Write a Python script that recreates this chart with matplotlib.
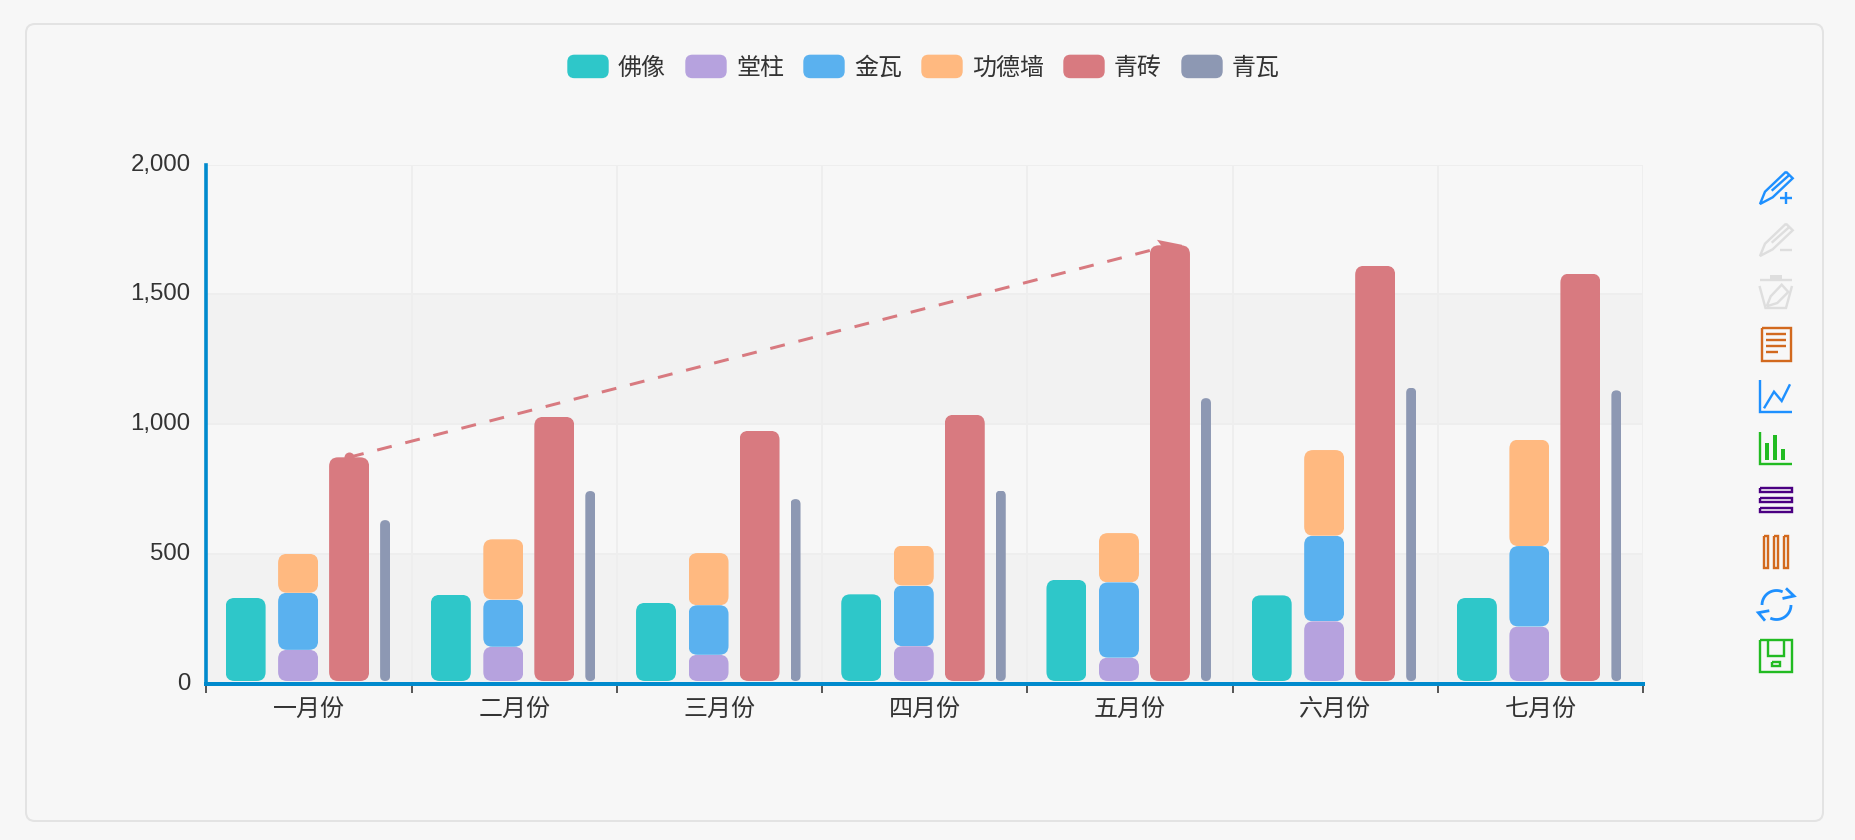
import numpy as np
import matplotlib
matplotlib.use("Agg")
import matplotlib.pyplot as plt
from matplotlib.lines import Line2D
from matplotlib.patches import FancyBboxPatch, Patch, Polygon, Rectangle
from matplotlib.legend_handler import HandlerPatch
from matplotlib.transforms import Affine2D, ScaledTranslation
from matplotlib.ticker import FuncFormatter

plt.rcParams['font.family'] = ['Liberation Sans', 'Noto Sans CJK SC']

# ---- data ----
months = ['一月份', '二月份', '三月份', '四月份', '五月份', '六月份', '七月份']
foxiang = [320, 332, 301, 334, 390, 330, 320]
tangzhu = [120, 132, 101, 134, 90, 230, 210]
jinwa = [220, 182, 191, 234, 290, 330, 310]
gongde = [150, 232, 201, 154, 190, 330, 410]
qingzhuan = [862, 1018, 964, 1026, 1679, 1600, 1570]
qingwa = [620, 732, 701, 734, 1090, 1130, 1120]
yticks = [0, 500, 1000, 1500, 2000]

# ---- style ----
W, H = 1856, 840
BG = '#F7F7F7'
C_TEAL, C_PURPLE, C_BLUE, C_ORANGE, C_RED, C_SLATE = '#2EC7C9', '#B6A2DE', '#5AB1EF', '#FFB980', '#D87A80', '#8D98B3'
AXIS = '#008ACD'
TEXT = '#333333'
FS = 24 * 0.72
AX_L, AX_R, AX_T, AX_B = 206.5, 1643.0, 164.5, 683.5
PX = 0.72  # points per pixel

fig = plt.figure(figsize=(W / 100, H / 100), dpi=100, facecolor=BG)
px = Affine2D().scale(1, -1).translate(0, H)

# card
fig.add_artist(FancyBboxPatch((26, 24), 1797, 797, boxstyle='round,pad=0,rounding_size=9',
                              fc=BG, ec='#E3E3E3', lw=2 * PX, transform=px, zorder=0))

ax = fig.add_axes([AX_L / W, 1 - AX_B / H, (AX_R - AX_L) / W, (AX_B - AX_T) / H])
ax.set_facecolor(BG)
ax.set_xlim(-0.5, 6.5)
ax.set_ylim(0, 2000)
sx = (AX_R - AX_L) / 7
sy = (AX_B - AX_T) / 2000

# alternating bands
for lo, hi in zip(yticks[:-1:2], yticks[1::2]):
    ax.axhspan(lo, hi, fc='#F2F2F2', ec='none', zorder=0)
# grid
ax.set_axisbelow(True)
ax.grid(True, which='major', color='#EEEEEE', lw=2 * PX, zorder=1)

x = np.arange(len(months))
LIFT = 2.5 / sy  # bars sit just above the axis line


def rounded(container, r_px):
    for bar in container:
        p = FancyBboxPatch((bar.get_x(), bar.get_y()), bar.get_width(), bar.get_height(),
                           boxstyle=f'round,pad=0,rounding_size={r_px / sx}',
                           mutation_aspect=sx / sy, transform=ax.transData)
        bar.set_clip_path(p)


def arr(v):
    return np.asarray(v, dtype=float)


w = 40 / sx
off_teal, off_stack, off_red, off_slate = -63.5 / sx, -11 / sx, 40 / sx, 76 / sx

# mark line behind the bars
x0, x1 = x[0] + off_red, x[4] + off_red
y0, y1 = qingzhuan[0] + LIFT, qingzhuan[4] + LIFT
lw_m = 3 * PX
ax.plot([x0, x1], [y0, y1], color=C_RED, lw=lw_m, zorder=2,
        linestyle=(0, (15 * PX / lw_m, 14 * PX / lw_m)), dash_capstyle='butt')
ax.plot([x0], [y0], 'o', color=C_RED, ms=10 * PX, mew=0, zorder=2)
ex, ey = ax.transData.transform((x1, y1))
ax.add_patch(Polygon([(ex - 13, ey + 5.5), (ex + 12, ey + 0.5), (ex + 12, ey - 4), (ex - 6, ey - 4)],
                     closed=True, fc=C_RED, ec='none', transform=None, zorder=2, clip_on=False))

rounded(ax.bar(x + off_teal, arr(foxiang), w, bottom=LIFT, color=C_TEAL, zorder=3), 9)
b = LIFT
rounded(ax.bar(x + off_stack, arr(tangzhu), w, bottom=b, color=C_PURPLE, zorder=3), 9)
b = b + arr(tangzhu)
rounded(ax.bar(x + off_stack, arr(jinwa), w, bottom=b, color=C_BLUE, zorder=3.1), 9)
b = b + arr(jinwa)
rounded(ax.bar(x + off_stack, arr(gongde), w, bottom=b, color=C_ORANGE, zorder=3.2), 9)
rounded(ax.bar(x + off_red, arr(qingzhuan), w, bottom=LIFT, color=C_RED, zorder=3), 9)
rounded(ax.bar(x + off_slate, arr(qingwa), 10 / sx, bottom=LIFT, color=C_SLATE, zorder=3), 5)

# axes
for s in ('top', 'right'):
    ax.spines[s].set_visible(False)
ax.spines['left'].set_color(AXIS)
ax.spines['left'].set_linewidth(3.6 * PX)
ax.spines['bottom'].set_color(AXIS)
ax.spines['bottom'].set_linewidth(4 * PX)
for s in ax.spines.values():
    s.set_zorder(5)
ax.set_yticks(yticks)
ax.yaxis.set_major_formatter(FuncFormatter(lambda v, _: f'{int(v):,}'))
ax.tick_params(axis='y', length=0, pad=16 * PX, labelsize=FS, labelcolor=TEXT)
ax.set_xticks(np.arange(-0.5, 7))
ax.set_xticks(x, minor=True)
ax.set_xticklabels([''] * 8)
ax.set_xticklabels(months, minor=True)
ax.tick_params(axis='x', which='major', length=9.2 * PX, width=1.6 * PX, color=TEXT)
ax.tick_params(axis='x', which='minor', length=0, pad=15 * PX, labelsize=FS, labelcolor=TEXT)
up = ScaledTranslation(0, 2.5 / 100, fig.dpi_scale_trans)
for tick in ax.yaxis.get_major_ticks():
    tick.label1.set_verticalalignment('center_baseline')
    tick.label1.set_transform(tick.label1.get_transform() + up)


# legend
def swatch(legend, orig_handle, xdescent, ydescent, width, height, fontsize):
    return FancyBboxPatch((-xdescent, -ydescent), width, height,
                          boxstyle=f'round,pad=0,rounding_size={6.5 * PX}')


names = ['佛像', '堂柱', '金瓦', '功德墙', '青砖', '青瓦']
colors = [C_TEAL, C_PURPLE, C_BLUE, C_ORANGE, C_RED, C_SLATE]
handles = [Patch(color=c, label=n) for c, n in zip(colors, names)]
fig.legend(handles=handles, ncol=6, loc='center', bbox_to_anchor=(924 / W, 1 - 67.5 / H), frameon=False,
           fontsize=FS, labelcolor=TEXT, handlelength=40 / 24, handleheight=25 / 24,
           handletextpad=10 / 24, columnspacing=20 / 24, borderpad=0, borderaxespad=0,
           handler_map={Patch: HandlerPatch(patch_func=swatch)})


# toolbox icons (decoration, in pixel coordinates)
def line(pts, color, closed=False, lw=2.4):
    pts = list(pts)
    if closed:
        pts = pts + [pts[0]]
    xs, ys = zip(*pts)
    fig.add_artist(Line2D(xs, ys, color=color, lw=lw * PX, transform=px, solid_joinstyle='miter',
                          solid_capstyle='butt'))


def rect(x0, y0, x1, y1, color, lw=2.4):
    line([(x0, y0), (x1, y0), (x1, y1), (x0, y1)], color, closed=True, lw=lw)


def fill(x0, y0, x1, y1, color):
    fig.add_artist(Rectangle((x0, y0), x1 - x0, y1 - y0, fc=color, ec='none', transform=px))


def pencil(dy, color):
    line([(1786, 171.7 + dy), (1792.7, 178.3 + dy), (1772.7, 197.3 + dy), (1760, 204 + dy), (1765, 191.7 + dy)],
         color, closed=True)
    line([(1771.7, 190.7 + dy), (1789.3, 175 + dy)], color)


I_BLUE, I_GRAY, I_BROWN, I_GREEN, I_INDIGO = '#1E90FF', '#DEDEDE', '#D2691E', '#22BB22', '#4B0082'
pencil(0, I_BLUE)
line([(1780, 198), (1792, 198)], I_BLUE)
line([(1786, 192), (1786, 204)], I_BLUE)
pencil(52, I_GRAY)
line([(1780, 249.5), (1792, 249.5)], I_GRAY)
# trash
line([(1760, 280), (1792, 280)], I_GRAY)
fill(1770, 275, 1782, 280, I_GRAY)
line([(1759.5, 286), (1765.5, 308), (1786, 308), (1792, 286)], I_GRAY)
line([(1766.7, 306.3), (1770.7, 296.3), (1781.7, 284.7), (1788.3, 292), (1777.3, 303)], I_GRAY, closed=True)
# data view
rect(1761.7, 327.7, 1790.7, 360.7, I_BROWN)
for yy, xe in zip((333.7, 339.7, 345.7, 351.7), (1786, 1786, 1786, 1778)):
    line([(1766, yy), (xe, yy)], I_BROWN)
# line chart
line([(1760, 380), (1760, 412), (1792, 412)], I_BLUE)
line([(1764, 408.3), (1774, 391.7), (1781.7, 401), (1790, 384.3)], I_BLUE)
# bar chart
line([(1760, 432), (1760, 464), (1792, 464)], I_GREEN)
fill(1765, 443, 1769, 460, I_GREEN)
fill(1773, 435, 1777, 460, I_GREEN)
fill(1781, 449, 1785, 460, I_GREEN)
# stack
for y_ in (487.3, 497.3, 507.3):
    rect(1760, y_ + 1, 1792, y_ + 4.4, I_INDIGO)
# tiled
for x_ in (1763.3, 1773.3, 1783.3):
    rect(x_ + 1, 536, x_ + 4.4, 567.5, I_BROWN)
# restore
cx, cy, r = 1776.5, 605, 14.5
a1 = np.radians(np.linspace(180, 65, 30))
line(list(zip(cx + r * np.cos(a1), cy - r * np.sin(a1))), I_BLUE, lw=2.8)
a2 = np.radians(np.linspace(0, -115, 30))
line(list(zip(cx + r * np.cos(a2), cy - r * np.sin(a2))), I_BLUE, lw=2.8)
line([(1786, 588.3), (1794, 596), (1782.5, 598.5)], I_BLUE, lw=2.8)
line([(1765, 620.7), (1758.3, 612.7), (1769.3, 610.7)], I_BLUE, lw=2.8)
# save
rect(1760, 640, 1792, 672, I_GREEN)
line([(1768, 640), (1768, 656), (1784, 656), (1784, 640)], I_GREEN)
rect(1772, 662, 1780, 666, I_GREEN)

fig.savefig('out.png', dpi=100, facecolor=BG)
